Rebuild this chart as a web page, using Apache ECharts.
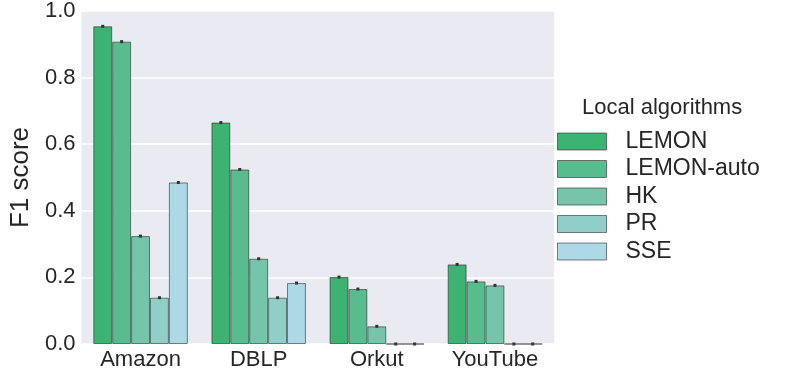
<!DOCTYPE html>
<html>
<head>
<meta charset="utf-8">
<script src="https://cdn.jsdelivr.net/npm/echarts@6/dist/echarts.min.js"></script>
<style>
html,body{margin:0;padding:0;background:#fff;}
#main{width:789px;height:390px;}
</style>
</head>
<body>
<div id="main"></div>
<script>
// datasets on x axis
var datasets = ['Amazon', 'DBLP', 'Orkut', 'YouTube'];
var algorithms = ['LEMON', 'LEMON-auto', 'HK', 'PR', 'SSE'];
var lemonVals = [0.954, 0.665, 0.201, 0.239];
var lemonAutoVals = [0.908, 0.524, 0.165, 0.188];
var hkVals = [0.324, 0.256, 0.053, 0.176];
var prVals = [0.139, 0.139, 0.0, 0.0];
var sseVals = [0.485, 0.183, 0.0, 0.0];
var yTicks = [0.0, 0.2, 0.4, 0.6, 0.8, 1.0];
var colors = ['#3cb371', '#58bc8e', '#74c5aa', '#90cfc8', '#add8e6'];

var allVals = [lemonVals, lemonAutoVals, hkVals, prVals, sseVals];
var font = 'Liberation Sans, Arial, sans-serif';

var myChart = echarts.init(document.getElementById('main'));

var series = [];
for (var s = 0; s < algorithms.length; s++) {
	series.push({
		name: algorithms[s],
		type: 'bar',
		data: allVals[s],
		itemStyle: {
			color: colors[s],
			borderColor: 'rgba(30,30,30,0.55)',
			borderWidth: 1
		}
	});
}

// small error bar marks on top of each bar
var errData = [];
for (var s = 0; s < algorithms.length; s++) {
	for (var i = 0; i < datasets.length; i++) {
		errData.push([i, allVals[s][i], s]);
	}
}
series.push({
	type: 'custom',
	name: 'err',
	silent: true,
	data: errData,
	z: 10,
	renderItem: function (params, api) {
		var pt = api.coord([api.value(0), api.value(1)]);
		var band = api.size([1, 0])[0];
		var bw = band * 0.8 / 5;
		var x = pt[0] - band * 0.4 + bw * (api.value(2) + 0.5);
		return {
			type: 'rect',
			shape: { x: x - 1.5, y: pt[1] - 1.5, width: 3, height: 3 },
			style: { fill: '#333' }
		};
	}
});

var option = {
	animation: false,
	title: {
		text: 'Local algorithms',
		left: 577,
		top: 92,
		textStyle: { fontFamily: font, fontSize: 22, fontWeight: 'normal', color: '#262626' }
	},
	legend: {
		data: algorithms,
		orient: 'vertical',
		left: 552,
		top: 125,
		itemWidth: 49,
		itemHeight: 17,
		itemGap: 4.5,
		icon: 'rect',
		itemStyle: { borderColor: 'rgba(30,30,30,0.55)', borderWidth: 1 },
		textStyle: { fontFamily: font, fontSize: 23, color: '#262626', padding: [0, 0, 0, 14] }
	},
	grid: {
		left: 80,
		right: 235,
		top: 10.7,
		bottom: 46,
		show: true,
		backgroundColor: '#eaeaf2',
		borderWidth: 0
	},
	xAxis: {
		type: 'category',
		data: datasets,
		axisLine: { show: false },
		axisTick: { show: false },
		axisLabel: { fontFamily: font, fontSize: 22, color: '#262626', margin: 5 }
	},
	yAxis: {
		type: 'value',
		min: 0,
		max: 1.0,
		interval: 0.2,
		name: 'F1 score',
		nameLocation: 'middle',
		nameGap: 43,
		nameTextStyle: { fontFamily: font, fontSize: 26, color: '#262626' },
		axisLine: { show: false },
		axisTick: { show: false },
		splitLine: { lineStyle: { color: '#ffffff', width: 1.5 } },
		axisLabel: {
			fontFamily: font, fontSize: 22, color: '#262626', margin: 6,
			formatter: function (v) { return v.toFixed(1); }
		}
	},
	barGap: '0%',
	barCategoryGap: '20%',
	series: series
};

myChart.setOption(option);
</script>
</body>
</html>
